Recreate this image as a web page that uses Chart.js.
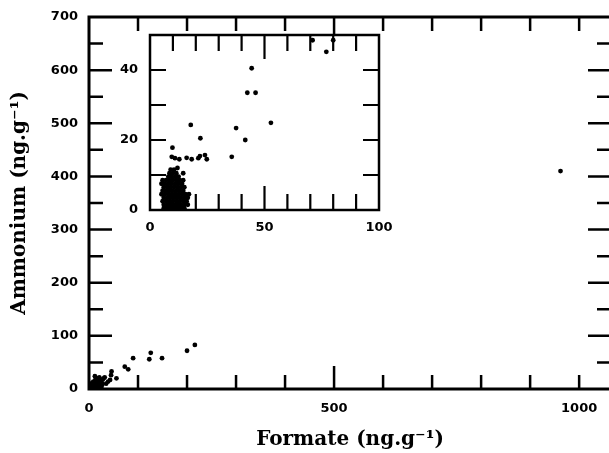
<!DOCTYPE html>
<html>
<head>
<meta charset="utf-8">
<script src="https://cdn.jsdelivr.net/npm/chart.js@4/dist/chart.umd.min.js"></script>
<style>
    html, body { margin: 0; padding: 0; background: #fff; overflow: hidden; }
    #wrap { position: relative; width: 609px; height: 453px; overflow: hidden; }
    #mainChart { position: absolute; left: 0; top: 0; }
    #insetChart { position: absolute; left: 100px; top: 28px; }
</style>
</head>
<body>
<div id="wrap">
    <canvas id="mainChart" width="615" height="453"></canvas>
    <canvas id="insetChart" width="310" height="215"></canvas>
</div>
<script>
// main panel: formate vs ammonium (ng.g-1)
const mainFormate = [216, 200, 149, 126, 123, 90, 73, 80, 46, 45, 43, 56, 39, 962,
    2, 4, 6, 8, 10, 12, 14, 16, 18, 20, 22, 24, 26, 28, 30, 5, 9, 13, 17, 21,
    25, 3, 7, 11, 15, 19, 23, 27, 1, 32, 35, 12, 18];
const mainAmmonium = [83, 72, 58, 68, 56, 58, 42, 37, 33, 26, 17, 20, 14, 410,
    1, 3, 2, 5, 8, 4, 10, 6, 12, 15, 9, 5, 12, 18, 20, 10, 14, 17, 20, 22,
    3, 6, 12, 2, 14, 7, 16, 8, 4, 22, 10, 24, 3];

// inset: zoom on 0-100 / 0-50
const insetFormate = [71, 77, 80, 44.4, 42.5, 46.1, 52.8, 17.8, 37.6, 22, 41.6, 9.8,
    9.5, 10.9, 12.8, 16, 18.2, 21.1, 21.8, 24, 24.8, 35.7,
    6, 7, 8, 9, 10, 11, 12, 13, 14, 15,
    6, 7.5, 9, 10.5, 12, 13.5, 15, 16.5,
    5.5, 7, 8.5, 10, 11.5, 13, 14.5, 16,
    6, 7.5, 9, 10.5, 12, 13.5, 15, 16.5,
    5, 6.5, 8, 9.5, 11, 12.5, 14, 15.5, 17,
    5.5, 7, 8.5, 10, 11.5, 13, 14.5,
    6, 7.5, 9, 10.5, 12, 13.5, 15,
    5, 6.5, 8, 9.5, 11, 12.5, 14,
    5.5, 7, 8.5, 10, 11.5, 13, 14.5,
    8, 9.5, 11, 12.5, 14.5, 8.5, 10, 11.5, 9, 10.5, 12];
const insetAmmonium = [48.5, 45.2, 48.5, 40.5, 33.5, 33.5, 24.9, 24.3, 23.4, 20.5, 20, 17.8,
    15.2, 14.8, 14.5, 14.9, 14.5, 14.8, 15.4, 15.7, 14.5, 15.2,
    0.5, 0.5, 0.5, 0.5, 0.5, 0.5, 0.5, 0.5, 0.5, 0.5,
    1.5, 1.5, 1.5, 1.5, 1.5, 1.5, 1.5, 1.5,
    2.5, 2.5, 2.5, 2.5, 2.5, 2.5, 2.5, 2.5,
    3.5, 3.5, 3.5, 3.5, 3.5, 3.5, 3.5, 3.5,
    4.5, 4.5, 4.5, 4.5, 4.5, 4.5, 4.5, 4.5, 4.5,
    5.5, 5.5, 5.5, 5.5, 5.5, 5.5, 5.5,
    6.5, 6.5, 6.5, 6.5, 6.5, 6.5, 6.5,
    7.5, 7.5, 7.5, 7.5, 7.5, 7.5, 7.5,
    8.5, 8.5, 8.5, 8.5, 8.5, 8.5, 8.5,
    9.5, 9.5, 9.5, 9.5, 10.5, 10.5, 10.5, 10.5, 11.5, 11.5, 12];

// labelled ticks
const mainXLabels = [0, 500, 1000];
const mainYLabels = [0, 100, 200, 300, 400, 500, 600, 700];
const insetXLabels = [0, 50, 100];
const insetYLabels = [0, 20, 40];

// tick marks (drawn inward on all four sides)
const mainXTicks = [100, 200, 300, 400, 500, 600, 700, 800, 900, 1000];
const mainYTicks = [50, 100, 150, 200, 250, 300, 350, 400, 450, 500, 550, 600, 650];
const insetXTicks = [10, 20, 30, 40, 50, 60, 70, 80, 90];
const insetYTicks = [10, 20, 30, 40];

const tickFont = { family: 'DejaVu Sans', weight: 'bold', size: 13 };
const titleFont = { family: 'DejaVu Serif', weight: 'bold', size: 20 };

function toPoints(xs, ys) {
    return xs.map((x, i) => ({ x: x, y: ys[i] }));
}

function fixedTicks(values) {
    return s => { s.ticks = values.map(v => ({ value: v })); };
}

function fixSize(prop, size) {
    return s => {
        s[prop] = size;
        s.paddingLeft = 0; s.paddingRight = 0;
        s.paddingTop = 0; s.paddingBottom = 0;
    };
}

// draws the box and inward ticks using the chart scales
const frameTicks = {
    id: 'frameTicks',
    beforeDraw(chart, args, opts) {
        if (!opts.fill) return;
        const a = chart.chartArea;
        chart.ctx.save();
        chart.ctx.fillStyle = '#fff';
        chart.ctx.fillRect(a.left, a.top, a.right - a.left, a.bottom - a.top);
        chart.ctx.restore();
    },
    afterDraw(chart, args, opts) {
        const { ctx, chartArea: a, scales: { x, y } } = chart;
        ctx.save();
        ctx.strokeStyle = '#000';
        ctx.lineWidth = opts.tickWidth;
        ctx.beginPath();
        opts.xTicks.forEach(v => {
            const px = x.getPixelForValue(v);
            const len = opts.xLong.includes(v) ? opts.longLen : opts.shortLen;
            ctx.moveTo(px, a.bottom); ctx.lineTo(px, a.bottom - len);
            ctx.moveTo(px, a.top); ctx.lineTo(px, a.top + len);
        });
        opts.yTicks.forEach(v => {
            const py = y.getPixelForValue(v);
            const len = opts.yLong.includes(v) ? opts.longLen : opts.shortLen;
            ctx.moveTo(a.left, py); ctx.lineTo(a.left + len, py);
            ctx.moveTo(a.right, py); ctx.lineTo(a.right - len, py);
        });
        ctx.stroke();
        ctx.lineWidth = opts.frameWidth;
        ctx.strokeRect(a.left, a.top, a.right - a.left, a.bottom - a.top);
        ctx.restore();
    }
};

new Chart(document.getElementById('mainChart'), {
    type: 'scatter',
    data: {
        datasets: [{
            data: toPoints(mainFormate, mainAmmonium),
            backgroundColor: '#000',
            borderWidth: 0,
            pointRadius: 2.4
        }]
    },
    options: {
        responsive: false,
        animation: false,
        events: [],
        layout: { padding: { top: 17, right: 3, left: 0, bottom: 0 } },
        plugins: {
            legend: { display: false },
            tooltip: { enabled: false },
            frameTicks: {
                xTicks: mainXTicks, yTicks: mainYTicks,
                xLong: [500], yLong: [100, 200, 300, 400, 500, 600],
                longLen: 23, shortLen: 14, tickWidth: 2.5, frameWidth: 3
            }
        },
        scales: {
            x: {
                type: 'linear', min: 0, max: 1065,
                afterBuildTicks: fixedTicks(mainXLabels),
                afterFit: fixSize('height', 64),
                grid: { display: false, drawTicks: false },
                border: { display: false },
                ticks: {
                    autoSkip: false, maxRotation: 0,
                    color: '#000', font: tickFont, padding: 12,
                    callback: v => String(v)
                },
                title: {
                    display: true, text: 'Formate (ng.g⁻¹)', color: '#000',
                    font: titleFont, padding: { top: 0, bottom: 1 }
                }
            },
            y: {
                type: 'linear', min: 0, max: 700,
                afterBuildTicks: fixedTicks(mainYLabels),
                afterFit: fixSize('width', 89),
                grid: { display: false, drawTicks: false },
                border: { display: false },
                ticks: {
                    autoSkip: false, color: '#000', font: tickFont, padding: 11,
                    callback: v => String(v)
                },
                title: {
                    display: true, text: 'Ammonium (ng.g⁻¹)', color: '#000',
                    font: titleFont, padding: { top: 8, bottom: 0 }
                }
            }
        }
    },
    plugins: [frameTicks]
});

new Chart(document.getElementById('insetChart'), {
    type: 'scatter',
    data: {
        datasets: [{
            data: toPoints(insetFormate, insetAmmonium),
            backgroundColor: '#000',
            borderWidth: 0,
            pointRadius: 2.4
        }]
    },
    options: {
        responsive: false,
        animation: false,
        events: [],
        layout: { padding: { top: 7, right: 31, left: 0, bottom: 0 } },
        plugins: {
            legend: { display: false },
            tooltip: { enabled: false },
            frameTicks: {
                fill: true,
                xTicks: insetXTicks, yTicks: insetYTicks,
                xLong: [50], yLong: [],
                longLen: 24, shortLen: 16, tickWidth: 2.2, frameWidth: 2.5
            }
        },
        scales: {
            x: {
                type: 'linear', min: 0, max: 100,
                afterBuildTicks: fixedTicks(insetXLabels),
                afterFit: fixSize('height', 33),
                grid: { display: false, drawTicks: false },
                border: { display: false },
                ticks: {
                    autoSkip: false, maxRotation: 0,
                    color: '#000', font: tickFont, padding: 10
                }
            },
            y: {
                type: 'linear', min: 0, max: 50,
                afterBuildTicks: fixedTicks(insetYLabels),
                afterFit: fixSize('width', 50),
                grid: { display: false, drawTicks: false },
                border: { display: false },
                ticks: { autoSkip: false, color: '#000', font: tickFont, padding: 12 }
            }
        }
    },
    plugins: [frameTicks]
});
</script>
</body>
</html>
